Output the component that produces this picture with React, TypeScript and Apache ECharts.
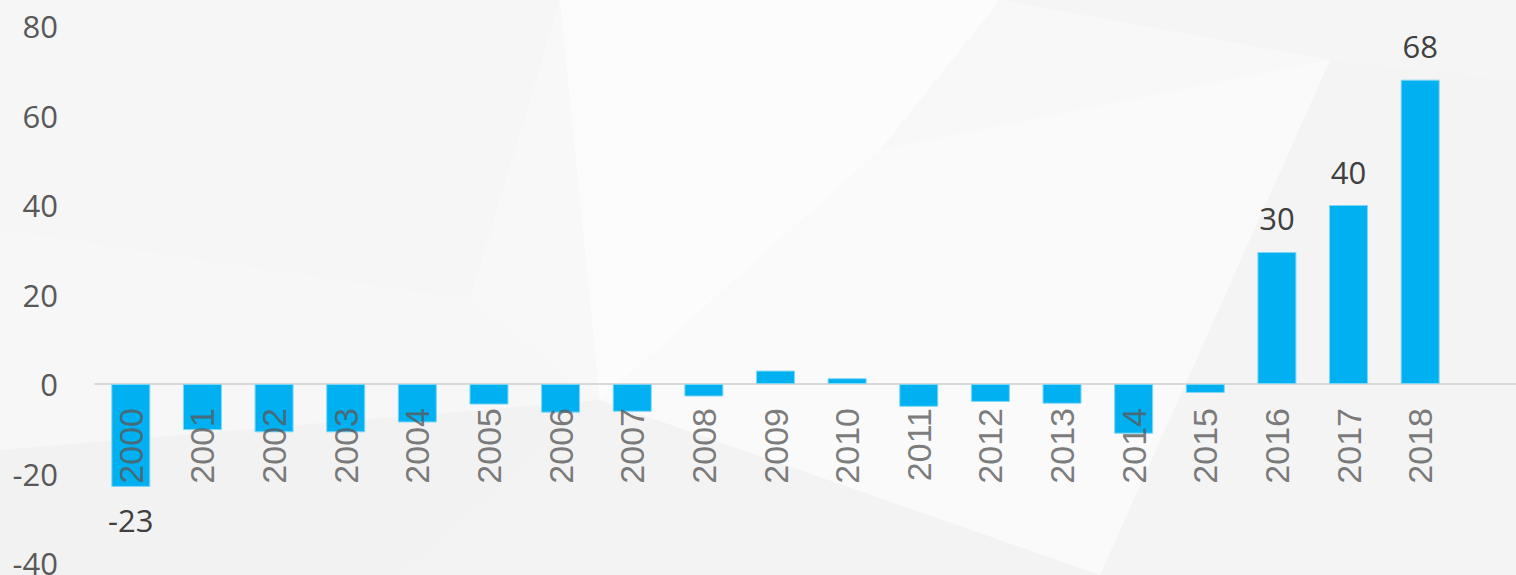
import React, { useEffect, useRef } from "react";
import * as echarts from "echarts";

const years = ["2000","2001","2002","2003","2004","2005","2006","2007","2008","2009","2010","2011","2012","2013","2014","2015","2016","2017","2018"];
const values = [-23, -10.3, -10.8, -10.8, -8.6, -4.6, -6.4, -6.2, -2.8, 3.0, 1.3, -5.1, -4.0, -4.4, -11.1, -2.0, 29.5, 40.0, 68.0];
const labelledYears = ["2000", "2016", "2017", "2018"];
const yMin = -40;
const yMax = 80;
const yStep = 20;

const BG_POLYS: { pts: number[][]; fill: string }[] = [
  { pts: [[0, 0], [560, 0], [470, 300], [0, 230]], fill: "#f6f6f6" },
  { pts: [[560, 0], [1000, 0], [880, 150], [600, 400]], fill: "#fcfcfc" },
  { pts: [[1000, 0], [1516, 0], [1516, 80], [1330, 60]], fill: "#f5f5f5" },
  { pts: [[1330, 60], [1516, 80], [1516, 575], [1100, 575]], fill: "#f4f4f4" },
  { pts: [[600, 400], [1100, 575], [400, 575]], fill: "#f3f3f3" },
  { pts: [[0, 230], [470, 300], [600, 400], [0, 450]], fill: "#f7f7f7" },
  { pts: [[0, 450], [600, 400], [400, 575], [0, 575]], fill: "#f2f2f2" },
  { pts: [[880, 150], [1330, 60], [1100, 575], [600, 400]], fill: "#fafafa" },
];

export default function App() {
  const ref = useRef<HTMLDivElement>(null);
  useEffect(() => {
    if (!ref.current) return;
    const chart = echarts.init(ref.current, undefined, { renderer: "svg" });
    const font = "'Open Sans', 'Noto Sans', sans-serif";
    chart.setOption({
      animation: false,
      backgroundColor: "#f8f8f8",
      grid: { left: 95, right: 60, top: 26, bottom: 12, containLabel: false, outerBoundsMode: "none" },
      xAxis: {
        type: "category",
        data: years,
        axisLine: { onZero: true, lineStyle: { color: "#d9d9d9", width: 2 } },
        axisTick: { show: false },
        axisLabel: { show: false },
      },
      yAxis: {
        type: "value",
        min: yMin,
        max: yMax,
        interval: yStep,
        axisLine: { show: false },
        axisTick: { show: false },
        splitLine: { show: false },
        axisLabel: { color: "#595959", fontSize: 31, fontFamily: font, margin: 37 },
      },
      series: [
        {
          type: "bar",
          barWidth: 39,
          itemStyle: { color: "#00B0F0", borderColor: "#7fd6f5", borderWidth: 1 },
          label: {
            show: false,
            position: "outside",
            distance: 18,
            color: "#404040",
            fontSize: 31,
            fontFamily: font,
            formatter: (p: any) => String(Math.round(p.value)),
          },
          data: values.map((v, i) => ({
            value: v,
            label: { show: labelledYears.includes(years[i]) },
          })),
          z: 3,
        },
        {
          type: "scatter",
          symbolSize: 0,
          silent: true,
          z: 5,
          data: years.map((y) => [y, 0]),
          label: {
            show: true,
            position: "bottom",
            distance: 24,
            rotate: 90,
            align: "right",
            verticalAlign: "middle",
            color: "#595959",
            fontSize: 34,
            fontFamily: "'Liberation Sans', Arial, sans-serif",
            formatter: (p: any) => p.value[0],
          },
        },
      ],
    });
    const zeroY = chart.convertToPixel({ yAxisIndex: 0 }, 0) as number;
    chart.setOption({
      graphic: [
        ...BG_POLYS.map((p) => ({
          type: "polygon",
          silent: true,
          z: -10,
          shape: { points: p.pts },
          style: { fill: p.fill },
        })),
        {
          type: "line",
          silent: true,
          z: 1,
          shape: { x1: 1440, y1: zeroY, x2: 1516, y2: zeroY },
          style: { stroke: "#d9d9d9", lineWidth: 2 },
        },
      ],
    });
    return () => chart.dispose();
  }, []);
  return (
    <div
      ref={ref}
      style={{ position: "fixed", left: 0, top: 0, width: 1516, height: 575 }}
    />
  );
}
